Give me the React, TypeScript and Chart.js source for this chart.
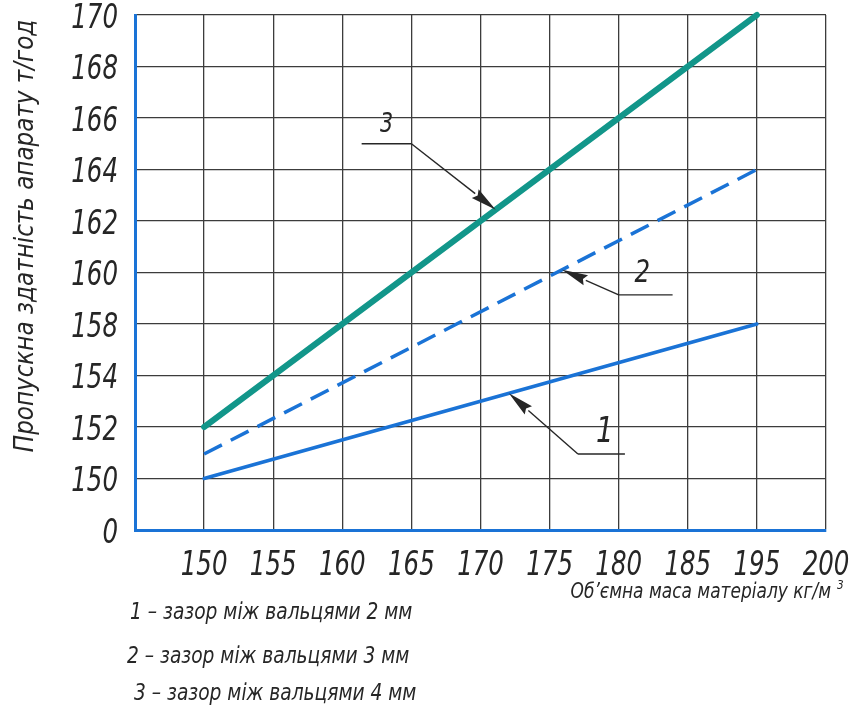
import React, { useEffect, useRef } from "react";
import { Chart, registerables } from "chart.js";

Chart.register(...registerables);

// ---- data ----
const xTickValues = [150, 155, 160, 165, 170, 175, 180, 185, 195, 200];
const yTickValues = [0, 150, 152, 154, 158, 160, 162, 164, 166, 168, 170];

const xValues = [150, 195];
const series1 = [150, 158]; // зазор 2 мм
const series2 = [150.95, 164]; // зазор 3 мм
const series3 = [152, 170]; // зазор 4 мм

const seriesNumbers = ["1", "2", "3"];
const legendLabels = [
  "1 – зазор між вальцями 2 мм",
  "2 – зазор між вальцями 3 мм",
  "3 – зазор між вальцями 4 мм",
];
const yTitle = "Пропускна здатність апарату т/год";
const xTitle = "Об’ємна маса матеріалу кг/м";
const xTitleSup = "3";

// callouts in value space: label point, leader line, arrow tip x on its series
const calloutLabelX = [179.0, 181.7, 163.2];
const calloutLabelY = [151.42, 159.63, 165.46];
const calloutLeaderX1 = [177.05, 180.0, 161.4];
const calloutLeaderX2 = [180.45, 183.9, 165.0];
const calloutLeaderY = [150.95, 159.13, 165.0];
const calloutTipX = [172.05, 175.9, 171.1];

// ---- map values onto the evenly spaced tick slots ----
function xPos(v: number): number {
  for (let i = 0; i < xTickValues.length - 1; i++) {
    const a = xTickValues[i];
    const b = xTickValues[i + 1];
    if (v <= b || i === xTickValues.length - 2) return i + 1 + (v - a) / (b - a);
  }
  return 0;
}
function yPos(v: number): number {
  for (let i = 0; i < yTickValues.length - 1; i++) {
    const a = yTickValues[i];
    const b = yTickValues[i + 1];
    if (v <= b || i === yTickValues.length - 2) return i + (v - a) / (b - a);
  }
  return 0;
}

const FONT = "'Liberation Sans Narrow', 'DejaVu Sans Condensed', 'DejaVu Sans', sans-serif";
const TEAL = "#12968a";
const BLUE = "#1a73d6";
const INK = "#262626";

function drawText(
  ctx: CanvasRenderingContext2D,
  text: string,
  x: number,
  y: number,
  size: number,
  align: CanvasTextAlign,
  squeeze: number
) {
  ctx.save();
  ctx.translate(x, y);
  ctx.scale(squeeze, 1);
  ctx.font = `italic ${size}px ${FONT}`;
  ctx.textAlign = align;
  ctx.textBaseline = "alphabetic";
  ctx.fillText(text, 0, 0);
  ctx.restore();
}

const overlayPlugin = {
  id: "overlay",
  afterDraw(chart: any) {
    const ctx: CanvasRenderingContext2D = chart.ctx;
    const xs = chart.scales.x;
    const ys = chart.scales.y;
    ctx.save();
    ctx.fillStyle = INK;
    ctx.strokeStyle = INK;

    // tick labels
    xTickValues.forEach((v, i) => {
      drawText(ctx, String(v), xs.getPixelForValue(i + 1), 575, 34, "center", 0.8);
    });
    yTickValues.forEach((v, i) => {
      drawText(ctx, String(v), 118, ys.getPixelForValue(i) + 12.5, 34, "right", 0.8);
    });

    // callouts
    const labelSizes = [36, 32, 27];
    for (let i = 0; i < 3; i++) {
      const meta = chart.getDatasetMeta(i);
      const p0 = meta.data[0];
      const p1 = meta.data[1];
      const tx = xs.getPixelForValue(xPos(calloutTipX[i]));
      const ty = p0.y + ((tx - p0.x) / (p1.x - p0.x)) * (p1.y - p0.y);
      const lx1 = xs.getPixelForValue(xPos(calloutLeaderX1[i]));
      const lx2 = xs.getPixelForValue(xPos(calloutLeaderX2[i]));
      const ly = ys.getPixelForValue(yPos(calloutLeaderY[i]));
      const sx = Math.abs(lx1 - tx) < Math.abs(lx2 - tx) ? lx1 : lx2;
      ctx.lineWidth = 1.4;
      ctx.beginPath();
      ctx.moveTo(lx1, ly);
      ctx.lineTo(lx2, ly);
      ctx.stroke();
      const ang = Math.atan2(ty - ly, tx - sx);
      const L = 26;
      const W = 5.5;
      const bx = tx - L * Math.cos(ang);
      const by = ty - L * Math.sin(ang);
      ctx.beginPath();
      ctx.moveTo(sx, ly);
      ctx.lineTo(bx, by);
      ctx.stroke();
      ctx.beginPath();
      ctx.moveTo(tx, ty);
      ctx.lineTo(bx + W * Math.sin(ang), by - W * Math.cos(ang));
      ctx.lineTo(bx + 0.12 * L * Math.cos(ang), by + 0.12 * L * Math.sin(ang));
      ctx.lineTo(bx - W * Math.sin(ang), by + W * Math.cos(ang));
      ctx.closePath();
      ctx.fill();
      drawText(
        ctx,
        seriesNumbers[i],
        xs.getPixelForValue(xPos(calloutLabelX[i])),
        ys.getPixelForValue(yPos(calloutLabelY[i])),
        labelSizes[i],
        "center",
        0.85
      );
    }

    // y title
    ctx.save();
    ctx.translate(33, 236);
    ctx.rotate(-Math.PI / 2);
    drawText(ctx, yTitle, 0, 0, 27, "center", 0.95);
    ctx.restore();

    // x title
    drawText(ctx, xTitle, 831, 598, 21, "right", 0.9);
    drawText(ctx, xTitleSup, 837, 589, 13, "left", 0.9);

    // legend text
    const lx = [130, 127, 134];
    const lyy = [619, 663, 700];
    legendLabels.forEach((t, i) => drawText(ctx, t, lx[i], lyy[i], 23, "left", 0.9));

    ctx.restore();
  },
};

export default function App() {
  const ref = useRef<HTMLCanvasElement | null>(null);

  useEffect(() => {
    if (!ref.current) return;
    const mk = (ys: number[]) => xValues.map((x, i) => ({ x: xPos(x), y: yPos(ys[i]) }));
    const chart = new Chart(ref.current, {
      type: "scatter",
      data: {
        datasets: [
          {
            label: legendLabels[0],
            data: mk(series1),
            showLine: true,
            borderColor: BLUE,
            borderWidth: 3.5,
            pointRadius: 0,
            borderCapStyle: "round",
            clip: false as any,
          },
          {
            label: legendLabels[1],
            data: mk(series2),
            showLine: true,
            borderColor: BLUE,
            borderWidth: 3.5,
            borderDash: [20, 10],
            pointRadius: 0,
            clip: false as any,
          },
          {
            label: legendLabels[2],
            data: mk(series3),
            showLine: true,
            borderColor: TEAL,
            borderWidth: 6,
            pointRadius: 0,
            borderCapStyle: "round",
            clip: false as any,
          },
        ],
      },
      options: {
        responsive: false,
        animation: false,
        devicePixelRatio: 1,
        layout: { padding: { top: 15, right: 31, left: 0, bottom: 0 } },
        plugins: { legend: { display: false }, tooltip: { enabled: false }, title: { display: false } },
        scales: {
          x: {
            type: "linear",
            min: 0,
            max: xTickValues.length,
            afterBuildTicks: (scale: any) => {
              scale.ticks = Array.from({ length: xTickValues.length + 1 }, (_, i) => ({ value: i }));
            },
            afterFit: (scale: any) => {
              scale.height = 177;
              scale.paddingLeft = 0;
              scale.paddingRight = 0;
            },
            ticks: { display: false },
            grid: { color: "#3c3c3c", lineWidth: 1.3, drawTicks: false },
            border: { display: true, color: BLUE, width: 3 },
          },
          y: {
            type: "linear",
            min: 0,
            max: yTickValues.length - 1,
            afterBuildTicks: (scale: any) => {
              scale.ticks = yTickValues.map((_, i) => ({ value: i }));
            },
            afterFit: (scale: any) => {
              scale.width = 135;
              scale.paddingTop = 0;
              scale.paddingBottom = 0;
            },
            ticks: { display: false },
            grid: { color: "#3c3c3c", lineWidth: 1.3, drawTicks: false },
            border: { display: true, color: BLUE, width: 3 },
          },
        },
      },
      plugins: [overlayPlugin],
    });
    return () => chart.destroy();
  }, []);

  return (
    <div style={{ position: "absolute", left: 0, top: 0, width: 857, height: 707, background: "#fff" }}>
      <canvas ref={ref} width={857} height={707} style={{ display: "block" }} />
    </div>
  );
}
